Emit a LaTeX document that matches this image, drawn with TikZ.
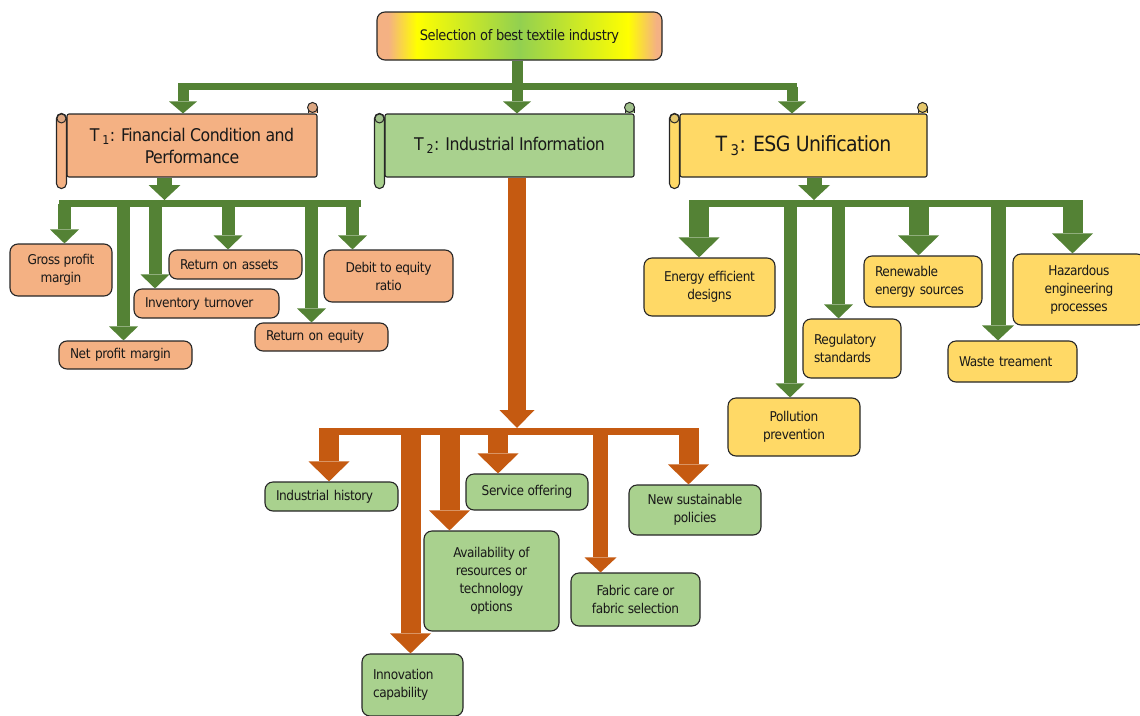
\documentclass[tikz,border=0pt]{standalone}
\usepackage{fontspec}
\setmainfont{DejaVu Sans Condensed}[LetterSpace=-3]
\usepackage{xcolor}
\usetikzlibrary{arrows.meta}

\definecolor{salmon}{HTML}{F4B183}
\definecolor{leaf}{HTML}{A9D18E}
\definecolor{sun}{HTML}{FFD966}
\definecolor{lime}{HTML}{92D050}
\definecolor{moss}{HTML}{548235}
\definecolor{rust}{HTML}{C55A11}
\pgfdeclarehorizontalshading{topgrad}{100bp}{color(0bp)=(salmon); color(27bp)=(salmon);
  color(32bp)=(yellow); color(50bp)=(lime); color(69bp)=(yellow); color(74bp)=(salmon); color(100bp)=(salmon)}

\begin{document}
\begin{tikzpicture}
  [x=1pt,y=-1pt,
   every node/.style={font=\fontsize{13.5}{18}\selectfont,text=black!90},
   box/.style={draw=black!85,line width=1.1pt,rounded corners=8pt,align=center,inner sep=0pt},
   lbox/.style={box,align=left,text width=#1},
   scroll/.style={box,rounded corners=2pt,font=\fontsize{17.5}{22}\selectfont},
   sz/.style 2 args={minimum width=#1pt,minimum height=#2pt},
   bar/.style={line width=7pt},
   slim/.style={line width=11pt,-{Triangle[width=28pt,length=12pt,line width=0pt]}},
   thin/.style={line width=13pt,-{Triangle[width=29pt,length=14pt,line width=0pt]}},
   mid/.style={line width=15pt,-{Triangle[width=32pt,length=15pt,line width=0pt]}},
   fat/.style={line width=18pt,-{Triangle[width=35pt,length=18pt,line width=0pt]}},
   wide/.style={line width=20pt,-{Triangle[width=41pt,length=20pt,line width=0pt]}}]
  \useasboundingbox (0,0) rectangle (1140,715);

  % goal and the three criteria
  \node[box,shading=topgrad,sz={285}{48},font=\fontsize{14.5}{18}\selectfont] (top) at (519.5,36) {Selection of best textile industry};
  \node[scroll,fill=salmon,sz={250}{63}] (t1) at (192,145.5) {T\,\textsubscript{1}: Financial Condition and\\Performance};
  \node[scroll,fill=leaf,sz={249}{63}] (t2) at (509.5,145.5) {T\,\textsubscript{2}: Industrial Information};
  \node[scroll,fill=sun,sz={247}{63},font=\fontsize{21}{24}\selectfont] (t3) at (803.5,145.5) {T\,\textsubscript{3}: ESG Unification};

  \foreach \n/\c in {t1/salmon,t2/leaf,t3/sun} {
    \draw[draw=black!85,line width=1.1pt,fill=\c,rounded corners=5pt]
      ([xshift=-10pt]\n.north west) rectangle ([yshift=-11pt]\n.south west);
    \draw[draw=black!85,line width=1.1pt,fill=\c]
      ([xshift=-9pt]\n.north east) -- ([xshift=-9pt,yshift=6pt]\n.north east)
      -- ([yshift=6pt]\n.north east) -- (\n.north east);
    \draw[draw=black!85,line width=1pt,fill=\c!80!gray] ([xshift=-5pt,yshift=-5pt]\n.north west) circle (4.5pt);
    \draw[draw=black!85,line width=1pt,fill=\c!80!gray] ([xshift=-5pt,yshift=6pt]\n.north east) circle (5pt);
  }

  % financial sub-criteria
  \node[box,fill=salmon,sz={102}{52}] (gross) at (61,270) {Gross profit\\margin};
  \node[lbox=111pt,fill=salmon,sz={133}{28}] (netp) at (125.5,355) {Net profit margin};
  \node[lbox=123pt,fill=salmon,sz={145}{29}] (inv) at (206.5,303.5) {Inventory turnover};
  \node[lbox=111pt,fill=salmon,sz={133}{29}] (roa) at (235.5,264.5) {Return on assets};
  \node[lbox=111pt,fill=salmon,sz={133}{28}] (roe) at (321.5,337) {Return on equity};
  \node[box,fill=salmon,sz={129}{52}] (dte) at (388.5,276) {Debit to equity\\ratio};

  % industrial sub-criteria
  \node[lbox=111pt,fill=leaf,sz={133}{29}] (ind) at (331.5,496.5) {Industrial history};
  \node[lbox=79pt,fill=leaf,sz={101}{62}] (inn) at (412.5,685) {Innovation\\capability};
  \node[box,fill=leaf,sz={135}{100}] (ava) at (491.5,581) {Availability of\\resources or\\technology\\options};
  \node[box,fill=leaf,sz={122}{36}] (svc) at (527,492) {Service offering};
  \node[box,fill=leaf,sz={129}{53}] (fab) at (635.5,599.5) {Fabric care or\\fabric selection};
  \node[box,fill=leaf,sz={132}{50}] (nsp) at (695,510) {New sustainable\\policies};

  % ESG sub-criteria
  \node[box,fill=sun,sz={131}{58}] (eed) at (709.5,287) {Energy efficient\\designs};
  \node[box,fill=sun,sz={132}{58}] (pol) at (794,427) {Pollution\\prevention};
  \node[lbox=76pt,fill=sun,sz={98}{59}] (reg) at (852,348.5) {Regulatory\\standards};
  \node[lbox=96pt,fill=sun,sz={118}{51}] (ren) at (923,281.5) {Renewable\\energy sources};
  \node[lbox=107pt,fill=sun,sz={129}{41}] (wst) at (1012.5,361.5) {Waste treament};
  \node[box,fill=sun,sz={132}{71}] (haz) at (1079,289.5) {Hazardous\\engineering\\processes};

  % first level
  \coordinate (j1) at (183,86.5);
  \coordinate (j2) at (517,86.5);
  \coordinate (j3) at (792,86.5);
  \draw[moss,bar] ([xshift=-5pt]j1) -- ([xshift=5pt]j3);
  \draw[moss,slim] (top.south -| j2) -- (j2 |- t2.north);
  \draw[moss,slim] (j1) -- (j1 |- t1.north);
  \draw[moss,slim] (j3) -- (j3 |- t3.north);

  % T1 branch
  \coordinate (k1) at (164.5,203.5);
  \coordinate (b1l) at (59,203.5);
  \coordinate (b1r) at (361,203.5);
  \draw[moss,bar] (b1l) -- (b1r);
  \draw[moss,mid] (t1.south -| k1) -- ([yshift=3.5pt]k1);
  \foreach \x/\n in {64.5/gross,123.5/netp,155/inv,228/roa,311.5/roe,352.5/dte} {
    \coordinate (s) at (\x,203.5);
    \draw[moss,thin] (s) -- (s |- \n.north);
  }

  % T3 branch
  \coordinate (k3) at (814,203.5);
  \coordinate (b3l) at (689,203.5);
  \coordinate (b3r) at (1083,203.5);
  \draw[moss,bar] (b3l) -- (b3r);
  \draw[moss,mid] (t3.south -| k3) -- ([yshift=3.5pt]k3);
  \foreach \x/\n/\s in {699/eed/wide,790/pol/thin,838.5/reg/thin,918.5/ren/wide,998/wst/mid,1072.5/haz/wide} {
    \coordinate (s) at (\x,203.5);
    \draw[moss,\s] (s) -- (s |- \n.north);
  }

  % T2 branch
  \coordinate (k2) at (517,431.5);
  \coordinate (b2l) at (319,431.5);
  \coordinate (b2r) at (699,431.5);
  \draw[rust,bar] (b2l) -- (b2r);
  \draw[rust,fat] (t2.south -| k2) -- ([yshift=3.5pt]k2);
  \foreach \x/\n/\s in {329/ind/wide,410.5/inn/wide,449.5/ava/wide,498/svc/wide,600.5/fab/mid,688.5/nsp/wide} {
    \coordinate (s) at (\x,431.5);
    \draw[rust,\s] (s) -- (s |- \n.north);
  }
\end{tikzpicture}
\end{document}
